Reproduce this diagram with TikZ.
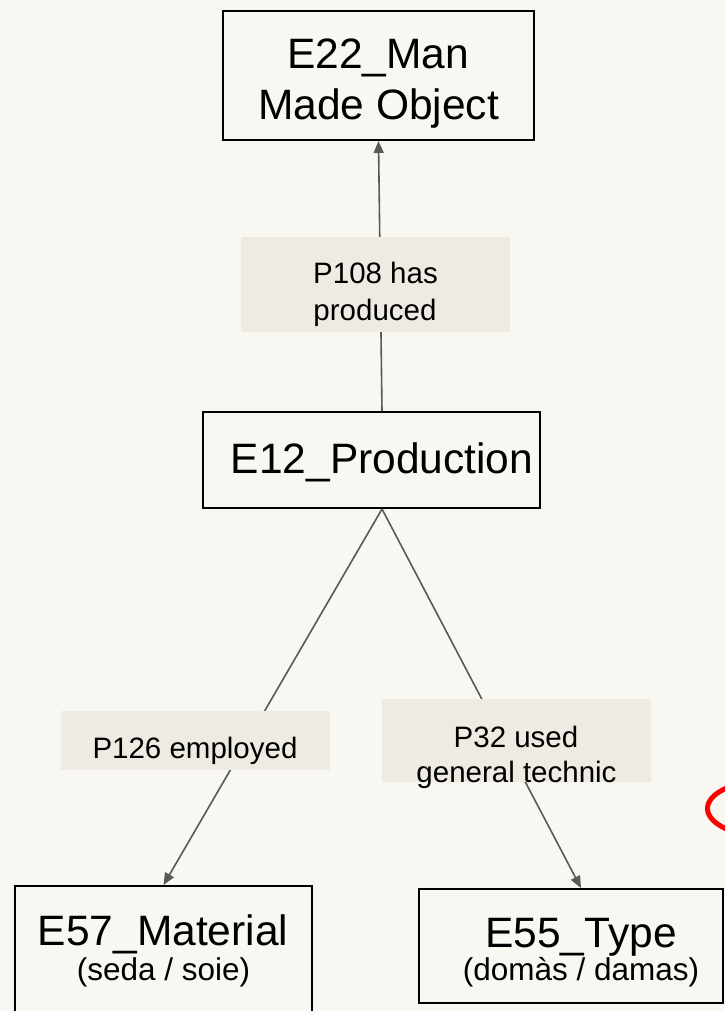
\documentclass[tikz,border=0pt]{standalone}
\usepackage{fontspec}
\setmainfont{Liberation Sans}
\usetikzlibrary{arrows.meta}
\definecolor{paper}{RGB}{248,247,242}
\definecolor{tag}{RGB}{238,235,226}
\definecolor{wire}{RGB}{89,89,89}
\definecolor{ring}{RGB}{255,0,0}

\begin{document}
\begin{tikzpicture}[x=1pt,y=-1pt]
	\tikzstyle{entity}=[draw=black,line width=2pt,fill=paper,inner sep=0pt];
	\tikzstyle{prop}=[fill=tag,inner sep=0pt];
	\tikzstyle{bigtext}=[font=\fontsize{42.5}{50}\selectfont,inner sep=0pt,anchor=base];
	\tikzstyle{proptext}=[font=\fontsize{29.5}{37}\selectfont,inner sep=0pt,anchor=base];
	\tikzstyle{notetext}=[font=\fontsize{31.5}{37}\selectfont,inner sep=0pt,anchor=base];
	\tikzstyle{link}=[draw=wire,line width=1.6pt,-{Triangle[length=12pt,width=10pt]}];
%<--------------------------------------------------------------------------->%

	\fill[paper] (0,0) rectangle (725,1011);
	\useasboundingbox (0,0) rectangle (725,1011);
	\clip (0,0) rectangle (725,1011);
	%% Entities
	\node[entity,minimum width=311pt,minimum height=129pt] (obj)  at (378.5,75.5) {};
	\node[entity,minimum width=337pt,minimum height=96pt]  (prod) at (371.5,460) {};
	\node[entity,minimum width=297pt,minimum height=130pt] (mat)  at (163.5,951) {};
	\node[entity,minimum width=304pt,minimum height=114pt] (typ)  at (571,946) {};
	%% Links
	\draw[link] ([xshift=10.5pt]prod.north) -- (obj.south);
	\draw[link] ([xshift=10.5pt]prod.south) -- (mat.north);
	\draw[link] ([xshift=10.5pt]prod.south) -- ([xshift=10pt]typ.north);
	%% Properties
	\node[prop,minimum width=269pt,minimum height=95pt] (p108) at (375.5,284.5) {};
	\node[prop,minimum width=269pt,minimum height=59pt] (p126) at (195.5,740.5) {};
	\node[prop,minimum width=269pt,minimum height=83pt] (p32)  at (516.5,740.5) {};
	%% Texts
	\node[bigtext] (objA)  at (378,69)    {E22\_Man};
	\node[bigtext] (objB)  at (378.5,120) {Made Object};
	\node[bigtext] (prodA) at (382,473)   {E12\_Production};
	\node[bigtext] (matA)  at (163,945)   {E57\_Material};
	\node[notetext] (matB) at (163.5,980) {(seda / soie)};
	\node[bigtext] (typA)  at (581,947)   {E55\_Type};
	\node[notetext] (typB) at (581,980)   {(domàs / damas)};
	\node[proptext] (p108A) at (375.5,283) {P108 has};
	\node[proptext] (p108B) at (375,320)   {produced};
	\node[proptext] (p126A) at (195,758)   {P126 employed};
	\node[proptext] (p32A)  at (516,747)   {P32 used};
	\node[proptext] (p32B)  at (516.5,782) {general technic};
	%% Mark
	\draw[ring,line width=5pt] (767.5,808.5) ellipse [x radius=60, y radius=28];
\end{tikzpicture}
\end{document}
